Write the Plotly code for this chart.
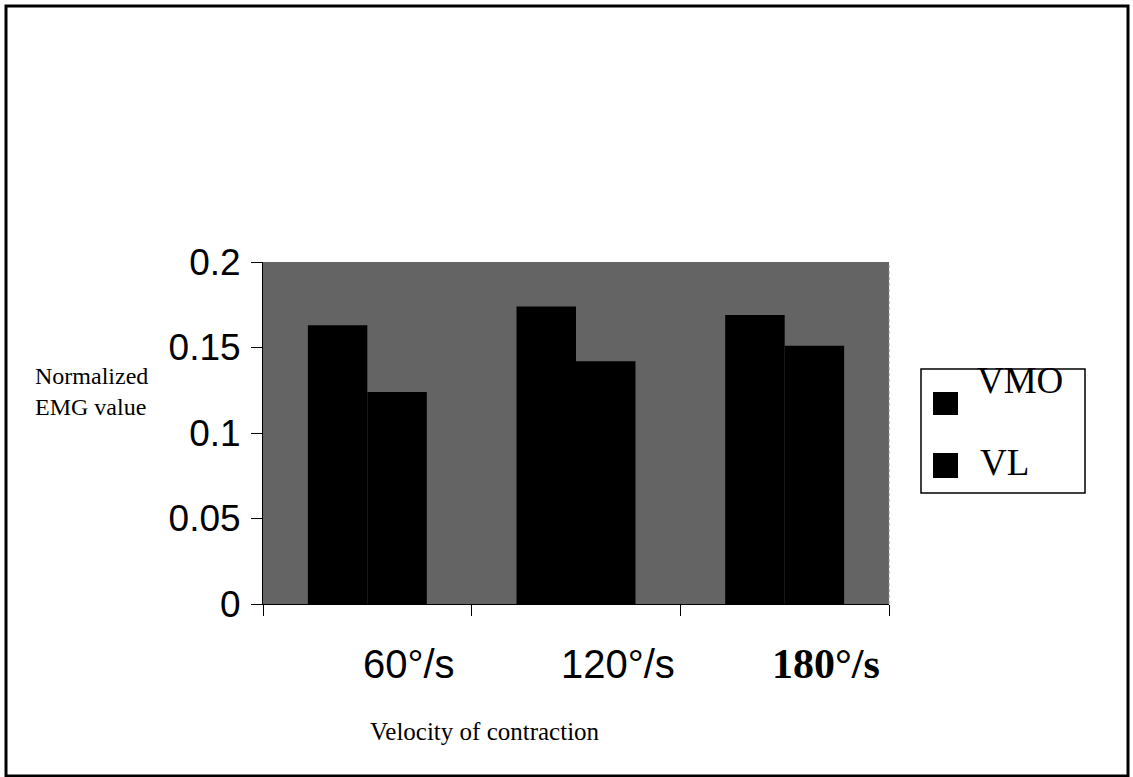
import plotly.graph_objects as go

# ---- data ----
categories = ["60°/s", "120°/s", "180°/s"]
series_names = ["VMO", "VL"]
vmo_values = [0.163, 0.174, 0.169]
vl_values = [0.124, 0.142, 0.151]
y_tickvals = [0, 0.05, 0.1, 0.15, 0.2]
y_ticktext = ["0", "0.05", "0.1", "0.15", "0.2"]
y_title_lines = ["Normalized", "EMG value"]
x_title = "Velocity of contraction"

# ---- layout geometry (pixels in the 1133x777 page) ----
W, H = 1133, 777
L, R, T, B = 263, 889, 262, 604


def px(x):
    return (x - L) / (R - L)


def py(y):
    return (B - y) / (B - T)


SERIF = "Liberation Serif, Times New Roman, serif"
SANS = "Liberation Sans, Arial, sans-serif"

fig = go.Figure()
for name, vals in zip(series_names, [vmo_values, vl_values]):
    fig.add_bar(x=categories, y=vals, name=name,
                marker=dict(color="black", line=dict(width=0)))

fig.update_layout(
    width=W, height=H,
    margin=dict(l=L, r=W - R, t=T, b=H - B, pad=0),
    paper_bgcolor="white",
    plot_bgcolor="#646464",
    barmode="group",
    bargap=0.43,
    bargroupgap=0,
    showlegend=False,
    xaxis=dict(
        type="category",
        range=[-0.5, 2.5],
        tickson="boundaries",
        ticks="outside", ticklen=11, tickwidth=1, tickcolor="black",
        showticklabels=False,
        showline=True, linecolor="black", linewidth=1,
        showgrid=False, zeroline=False,
    ),
    yaxis=dict(
        range=[0, 0.2],
        tickvals=y_tickvals, ticktext=y_ticktext,
        ticks="outside", ticklen=11, tickwidth=1, tickcolor="black",
        tickfont=dict(family=SANS, size=37, color="black"),
        ticklabelstandoff=3,
        showline=True, linecolor="black", linewidth=1,
        showgrid=False, zeroline=False,
    ),
)

annotations = []
# category labels (shifted right as in the reference)
label_fonts = [
    dict(family=SANS, size=40, color="black"),
    dict(family=SANS, size=40, color="black"),
    dict(family=SERIF, size=42, color="black", weight="bold"),
]
for i, (cat, f) in enumerate(zip(categories, label_fonts)):
    annotations.append(dict(
        x=i + 0.2, xref="x", y=py(664), yref="paper",
        text=cat, showarrow=False, font=f,
        xanchor="center", yanchor="middle",
    ))

# x title
annotations.append(dict(
    x=px(485), xref="paper", y=py(731), yref="paper",
    text=x_title, showarrow=False,
    font=dict(family=SERIF, size=25, color="black"),
    xanchor="center", yanchor="middle",
))

# y title (two lines)
annotations.append(dict(
    x=px(33), xref="paper", y=py(391), yref="paper",
    text="<br>".join(y_title_lines), showarrow=False, align="left",
    font=dict(family=SERIF, size=24, color="black"),
    xanchor="left", yanchor="middle",
))

shapes = []
# outer frame
shapes.append(dict(type="rect", xref="paper", yref="paper",
                   x0=px(6), x1=px(1128), y0=py(776), y1=py(6),
                   line=dict(color="black", width=3), fillcolor="rgba(0,0,0,0)",
                   layer="above"))

# faint dotted right edge of the plot area
shapes.append(dict(type="line", xref="paper", yref="paper",
                   x0=1, x1=1, y0=0, y1=1,
                   line=dict(color="#888888", width=1, dash="dot")))

# legend box
shapes.append(dict(type="rect", xref="paper", yref="paper",
                   x0=px(921), x1=px(1085), y0=py(493), y1=py(369),
                   line=dict(color="black", width=1.5), fillcolor="white"))

legend_items = [
    (series_names[0], 392, 415, 1020, 380),
    (series_names[1], 453, 478, 1004, 462),
]
for name, sy0, sy1, tx, ty in legend_items:
    shapes.append(dict(type="rect", xref="paper", yref="paper",
                       x0=px(933), x1=px(958), y0=py(sy1), y1=py(sy0),
                       line=dict(color="black", width=0), fillcolor="black"))
    annotations.append(dict(
        x=px(tx), xref="paper", y=py(ty), yref="paper",
        text=name, showarrow=False,
        font=dict(family=SERIF, size=37, color="black"),
        xanchor="center", yanchor="middle",
    ))

fig.update_layout(annotations=annotations, shapes=shapes)

fig.write_html("out.html", config={"displayModeBar": False},
               post_script="document.body.style.margin='0px';")
